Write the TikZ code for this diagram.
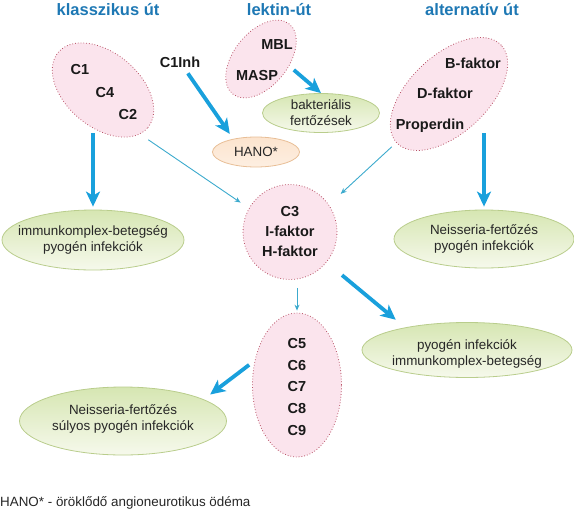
\documentclass[tikz,border=0pt]{standalone}
\usepackage{fontspec}
\setmainfont{Liberation Sans}
\usetikzlibrary{arrows.meta,shapes.geometric,calc}
\definecolor{titleblue}{RGB}{30,120,180}
\definecolor{arrblue}{RGB}{25,160,220}
\definecolor{thinblue}{RGB}{60,170,205}
\definecolor{pinkfill}{RGB}{251,228,237}
\definecolor{pinkline}{RGB}{185,85,105}
\definecolor{greenfill}{RGB}{214,230,178}
\definecolor{greenlight}{RGB}{246,249,236}
\definecolor{greenline}{RGB}{185,205,140}
\definecolor{hanofill}{RGB}{252,228,206}
\definecolor{hanoline}{RGB}{232,190,150}
\tikzset{
  pinkell/.style={ellipse, draw=pinkline, dotted, line width=0.8pt,
    fill=pinkfill, inner sep=0pt},
  greenell/.style={ellipse, draw=greenline, line width=0.8pt, inner sep=0pt,
    top color=greenfill, bottom color=greenlight},
  hanoell/.style={ellipse, draw=hanoline, line width=0.8pt, inner sep=0pt,
    top color=hanofill, bottom color=hanofill!60!white},
  titletxt/.style={font=\fontsize{16.5}{19}\selectfont\bfseries, text=titleblue},
  comptxt/.style={font=\fontsize{14.5}{20}\selectfont\bfseries,
    text=black!90, align=center},
  gtxt/.style={font=\fontsize{13.4}{16}\selectfont, text=black!85, align=center},
  thk/.style={-{Stealth[length=15pt,width=14pt,inset=4pt]}, line width=3.8pt,
    draw=arrblue},
  thn/.style={-{Stealth[length=6pt,width=5pt]}, line width=0.9pt,
    draw=thinblue},
}
\begin{document}
\begin{tikzpicture}[x=1pt,y=-1pt]
  \useasboundingbox (0,0) rectangle (574,512);

  % Titles
  \node[titletxt] (tklass) at (108,10) {klasszikus út};
  \node[titletxt] (tlekt) at (279,10) {lektin-út};
  \node[titletxt] (talt) at (472,10) {alternatív út};

  % Pathways
  \node[pinkell, minimum width=117pt, minimum height=74pt, rotate=-40]
    (klass) at (103,90) {};
  \node[pinkell, minimum width=90pt, minimum height=54pt, rotate=51]
    (lekt) at (261,59) {};
  \node[pinkell, minimum width=143pt, minimum height=78pt, rotate=43]
    (alt) at (449,94) {};
  \node[pinkell, minimum width=94pt, minimum height=95pt] (c3) at (290,232) {};
  \node[pinkell, minimum width=89pt, minimum height=144pt] (c5) at (297,385) {};

  \node[comptxt] (c1) at (80,70) {C1};
  \node[comptxt] (c4) at (105,93) {C4};
  \node[comptxt] (c2) at (128,115) {C2};
  \node[comptxt] (mbl) at (277,45) {MBL};
  \node[comptxt] (masp) at (257,76) {MASP};
  \node[comptxt] (c1inh) at (180,62) {C1Inh};
  \node[comptxt] (bfak) at (473,63) {B-faktor};
  \node[comptxt] (dfak) at (445,93) {D-faktor};
  \node[comptxt] (prop) at (430,126) {Properdin};
  \node[comptxt] (c3txt) at (c3) {C3\\I-faktor\\H-faktor};
  \node[comptxt, font=\fontsize{14.5}{21.75}\selectfont\bfseries]
    (c5txt) at (297,387) {C5\\C6\\C7\\C8\\C9};

  % Diseases
  \node[greenell, minimum width=117pt, minimum height=39pt] (bakt) at (321,113) {};
  \node[hanoell, minimum width=87pt, minimum height=30pt] (hano) at (256,152) {};
  \node[greenell, minimum width=182pt, minimum height=60pt] (imm) at (93,240) {};
  \node[greenell, minimum width=180pt, minimum height=58pt] (neis) at (484,239) {};
  \node[greenell, minimum width=210pt, minimum height=55pt] (pyo) at (467,350) {};
  \node[greenell, minimum width=207pt, minimum height=68pt] (neis2) at (123,421) {};

  \node[gtxt] (bakttxt) at (bakt) {bakteriális\\fertőzések};
  \node[gtxt] (hanotxt) at (hano) {HANO*};
  \node[gtxt] (immtxt) at (imm) {immunkomplex-betegség\\pyogén infekciók};
  \node[gtxt] (neistxt) at (neis) {Neisseria-fertőzés\\pyogén infekciók};
  \node[gtxt] (pyotxt) at (467,354) {pyogén infekciók\\immunkomplex-betegség};
  \node[gtxt] (neis2txt) at (123,419) {Neisseria-fertőzés\\súlyos pyogén infekciók};

  % Arrows
  \draw[thk, shorten <=43pt, shorten >=3pt] (imm |- klass) -- (imm);
  \draw[thk, shorten <=3pt, shorten >=6pt] (c1inh) -- (hano.150);
  \draw[thk, shorten <=6pt] (lekt.-65) -- (bakt.north);
  \draw[thk, shorten <=39pt, shorten >=3pt] (neis |- alt) -- (neis);
  \draw[thn, shorten <=10pt, shorten >=10pt] (klass.-10) -- (c3.150);
  \draw[thn, shorten <=6pt, shorten >=16pt] (alt) -- (c3.35);
  \draw[thn, shorten <=8pt, shorten >=2pt] (c5 |- c3.south) -- (c5);
  \draw[thk, shorten <=20pt, shorten >=12pt] (c3) -- (pyo.160);
  \draw[thk, shorten <=7pt, shorten >=8pt] (c5.150) -- (neis2.15);

  % Footnote
  \node[gtxt, anchor=west, inner sep=0pt] (foot) at (0,503)
    {HANO* - öröklődő angioneurotikus ödéma};
\end{tikzpicture}
\end{document}
